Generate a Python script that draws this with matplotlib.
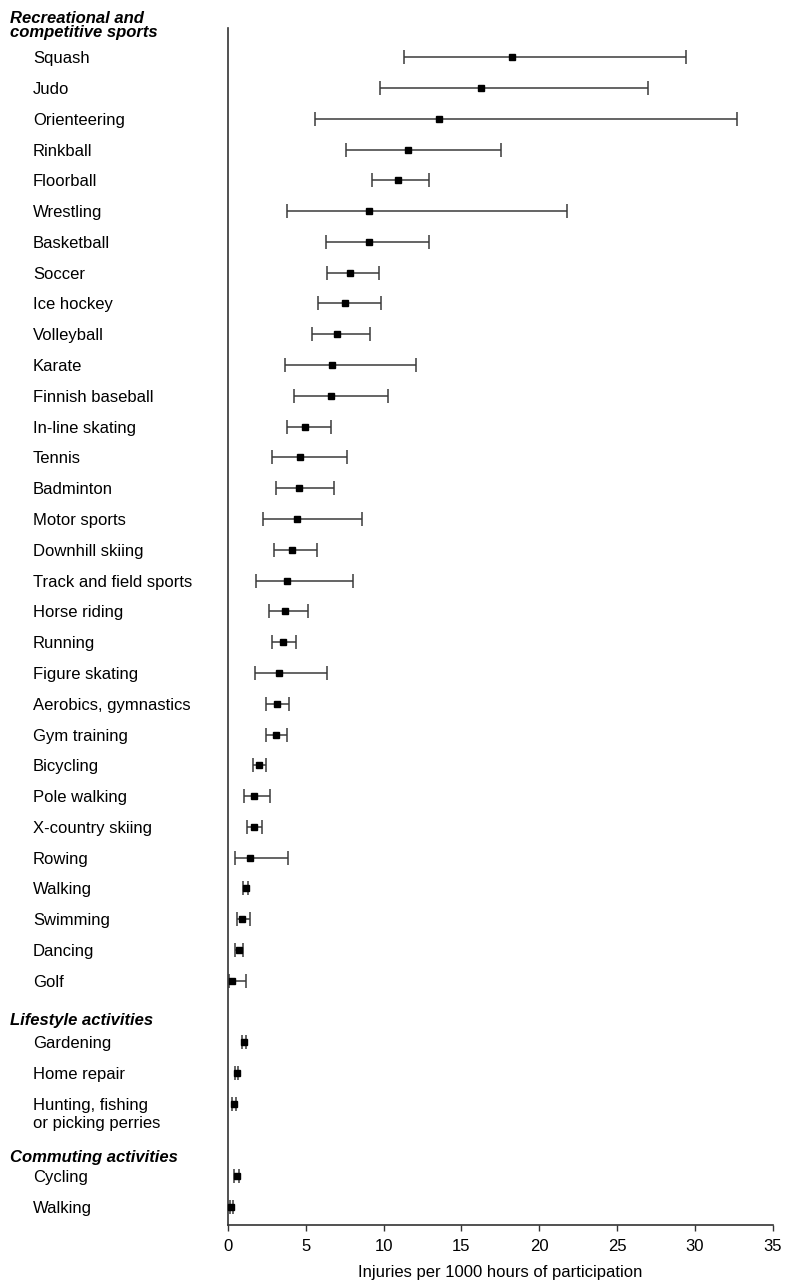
import matplotlib
matplotlib.use("Agg")
import matplotlib.pyplot as plt
import matplotlib.transforms as mtransforms

plt.rcParams['font.family'] = ['Liberation Sans', 'DejaVu Sans']

# ---- data ----
sport_names = ["Squash", "Judo", "Orienteering", "Rinkball", "Floorball", "Wrestling",
               "Basketball", "Soccer", "Ice hockey", "Volleyball", "Karate",
               "Finnish baseball", "In-line skating", "Tennis", "Badminton",
               "Motor sports", "Downhill skiing", "Track and field sports",
               "Horse riding", "Running", "Figure skating", "Aerobics, gymnastics",
               "Gym training", "Bicycling", "Pole walking", "X-country skiing",
               "Rowing", "Walking", "Swimming", "Dancing", "Golf"]
sport_rate = [18.26, 16.25, 13.57, 11.54, 10.94, 9.06, 9.04, 7.81, 7.51, 6.98, 6.68,
              6.59, 4.97, 4.65, 4.58, 4.41, 4.09, 3.79, 3.64, 3.51, 3.30, 3.13,
              3.06, 1.97, 1.67, 1.65, 1.41, 1.14, 0.92, 0.71, 0.26]
sport_low = [11.32, 9.78, 5.57, 7.58, 9.23, 3.77, 6.29, 6.34, 5.76, 5.37, 3.66,
             4.22, 3.77, 2.85, 3.06, 2.27, 2.93, 1.78, 2.61, 2.85, 1.71, 2.42,
             2.42, 1.59, 1.01, 1.22, 0.47, 0.98, 0.58, 0.45, 0.05]
sport_high = [29.43, 26.99, 32.70, 17.56, 12.91, 21.79, 12.91, 9.70, 9.83, 9.10, 12.05,
              10.28, 6.59, 7.66, 6.81, 8.61, 5.74, 8.01, 5.12, 4.37, 6.38, 3.92,
              3.77, 2.42, 2.68, 2.20, 3.85, 1.30, 1.41, 0.98, 1.18]

life_names = ["Gardening", "Home repair", "Hunting, fishing\nor picking perries"]
life_rate = [1.03, 0.55, 0.37]
life_low = [0.88, 0.45, 0.25]
life_high = [1.18, 0.65, 0.49]

comm_names = ["Cycling", "Walking"]
comm_rate = [0.55, 0.21]
comm_low = [0.40, 0.10]
comm_high = [0.72, 0.32]

group_titles = [["Recreational and", "competitive sports"],
                ["Lifestyle activities"],
                ["Commuting activities"]]
groups = [(sport_names, sport_rate, sport_low, sport_high),
          (life_names, life_rate, life_low, life_high),
          (comm_names, comm_rate, comm_low, comm_high)]

x_ticks = [0, 5, 10, 15, 20, 25, 30, 35]
x_label = "Injuries per 1000 hours of participation"

FS = 12

# ---- figure ----
fig = plt.figure(figsize=(8.0, 12.84), dpi=100)
ax = fig.add_axes([0.285, 0.046, 0.681, 0.932])

trans = mtransforms.blended_transform_factory(fig.transFigure, ax.transData)

pos = 0.0
header_offsets = [None, 0.23, 0.35]
for gi, (names, rate, low, high) in enumerate(groups):
    if gi == 0:
        ax.text(0.012, -1.11, group_titles[0][0], transform=trans, fontsize=FS,
                fontweight='bold', fontstyle='italic', va='baseline', ha='left')
        ax.text(0.012, -0.64, group_titles[0][1], transform=trans, fontsize=FS,
                fontweight='bold', fontstyle='italic', va='baseline', ha='left')
    else:
        ax.text(0.012, pos + header_offsets[gi], group_titles[gi][0], transform=trans,
                fontsize=FS, fontweight='bold', fontstyle='italic',
                va='center_baseline', ha='left')
        pos += 1
    for name, r, lo, hi in zip(names, rate, low, high):
        ax.errorbar([r], [pos], xerr=[[r - lo], [hi - r]], fmt='s', color='black',
                    ecolor='#3a3a3a', elinewidth=1.1, capsize=5.2, capthick=1.1,
                    markersize=4.2, clip_on=False, zorder=3)
        lines = name.split("\n")
        for li, ln in enumerate(lines):
            ax.text(0.041, pos + li * 0.58, ln, transform=trans, fontsize=FS,
                    va='center_baseline', ha='left')
        pos += 1
        if len(lines) > 1:
            pos += 0.35

ax.set_xlim(0, 35)
ax.set_ylim(37.93, -0.94)
ax.set_xticks(x_ticks)
ax.set_xticklabels([str(t) for t in x_ticks], fontsize=FS)
ax.set_yticks([])
ax.tick_params(axis='x', direction='out', length=4, width=1, color='#333333', pad=6)
for s in ['top', 'right']:
    ax.spines[s].set_visible(False)
for s in ['left', 'bottom']:
    ax.spines[s].set_color('#333333')
    ax.spines[s].set_linewidth(1.2)
ax.set_xlabel(x_label, fontsize=FS, labelpad=8)

fig.savefig("out.png", dpi=100)
